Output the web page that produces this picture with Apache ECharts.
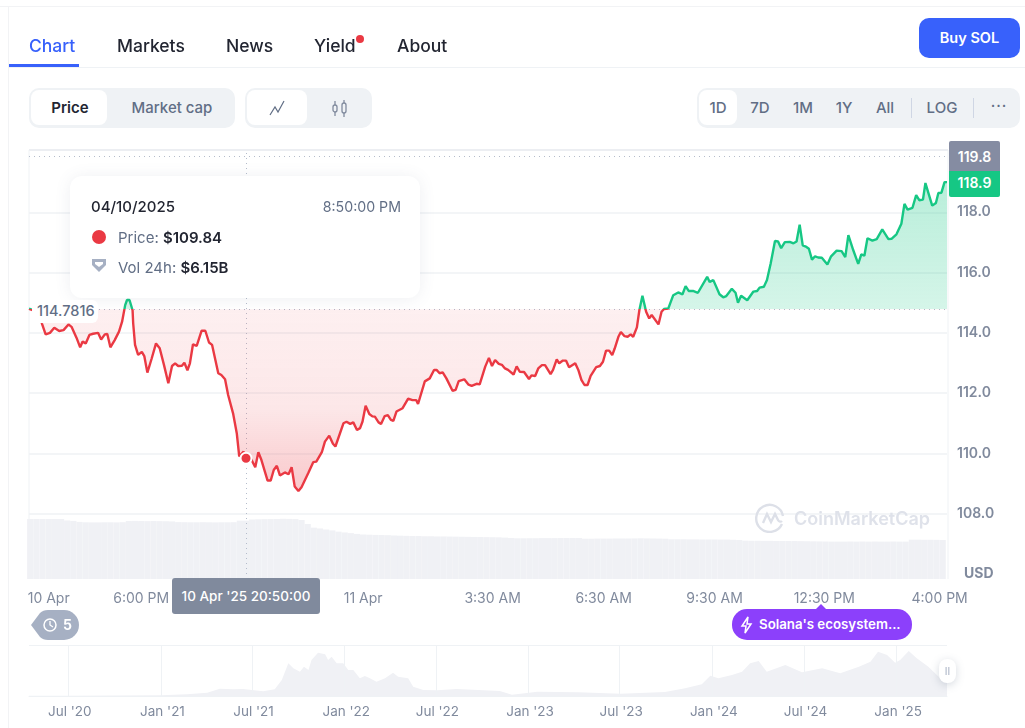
<!DOCTYPE html>
<html>
<head>
<meta charset="utf-8">
<script src="https://cdn.jsdelivr.net/npm/echarts@6/dist/echarts.min.js"></script>
<style>
html, body { margin: 0; padding: 0; background: #fff; }
body { width: 1025px; height: 728px; position: relative; overflow: hidden; font-family: Inter, "Noto Sans", sans-serif; color: #222531; }
#main { position: absolute; left: 0; top: 0; width: 1025px; height: 728px; }
.abs { position: absolute; white-space: nowrap; }
.mid { transform: translate(-50%, -50%); }
.tab { font-size: 17.5px; font-weight: 500; top: 36px; line-height: 20px; }
.pill { background: #eff2f5; border-radius: 10px; top: 88px; height: 40px; }
.inner { background: #fff; border-radius: 8px; top: 90px; height: 35px; }
.btn { top: 107px; font-size: 15px; font-weight: 500; color: #616e85; }
.price-tag { left: 949px; width: 51px; text-align: center; color: #fff; font-size: 14px; font-weight: 600; }
</style>
</head>
<body>
<div id="main"></div>

<div class="abs" style="left:0;top:6px;width:1025px;height:1px;background:#f2f3f5"></div>
<div class="abs" style="left:8px;top:6px;width:1px;height:722px;background:#f2f3f5"></div>
<div class="abs" style="left:9px;top:67px;width:1016px;height:1px;background:#eff2f5"></div>
<div class="abs" style="left:9px;top:64px;width:70px;height:3px;background:#3861fb"></div>
<div class="abs tab" style="left:29px;color:#3861fb">Chart</div>
<div class="abs tab" style="left:117px">Markets</div>
<div class="abs tab" style="left:226px">News</div>
<div class="abs tab" style="left:314px">Yield</div>
<div class="abs" style="left:356px;top:35px;width:8px;height:8px;border-radius:50%;background:#ea3943"></div>
<div class="abs tab" style="left:397px">About</div>
<div class="abs" style="left:919px;top:18px;width:101px;height:40px;line-height:40px;text-align:center;background:#3861fb;border-radius:10px;color:#fff;font-size:14.5px;font-weight:600">Buy SOL</div>

<div class="abs pill" style="left:29px;width:206px"></div>
<div class="abs inner" style="left:31px;width:76px"></div>
<div class="abs btn mid" style="left:70px;color:#222531;font-weight:600">Price</div>
<div class="abs btn mid" style="left:172px">Market cap</div>
<div class="abs pill" style="left:245px;width:127px"></div>
<div class="abs inner" style="left:247px;width:60px"></div>
<svg class="abs" style="left:269px;top:100px" width="16" height="16" viewBox="0 0 16 16" fill="none" stroke="#616e85" stroke-width="1.2"><path d="M1 15L6 7l3 5 6-11"/></svg>
<svg class="abs" style="left:331px;top:100px" width="18" height="17" viewBox="0 0 18 17" fill="none" stroke="#808a9d" stroke-width="1.3"><rect x="2" y="5" width="4" height="7" rx="2"/><rect x="11" y="3" width="4" height="10" rx="2"/><path d="M4 1v4M4 12v4M13 0v3M13 13v4"/></svg>

<div class="abs pill" style="left:697px;width:323px"></div>
<div class="abs inner" style="left:699px;width:38px"></div>
<div class="abs btn mid" style="left:718px">1D</div>
<div class="abs btn mid" style="left:760px">7D</div>
<div class="abs btn mid" style="left:803px">1M</div>
<div class="abs btn mid" style="left:844px">1Y</div>
<div class="abs btn mid" style="left:885px">All</div>
<div class="abs" style="left:911px;top:98px;width:1px;height:20px;background:#cfd6e4"></div>
<div class="abs btn mid" style="left:942px">LOG</div>
<div class="abs" style="left:973px;top:98px;width:1px;height:20px;background:#cfd6e4"></div>
<div class="abs btn mid" style="left:999px;top:105px;letter-spacing:1px">···</div>

<!-- hover card -->
<div class="abs" style="left:70px;top:176px;width:350px;height:122px;background:#fff;border-radius:12px;box-shadow:0 1px 16px rgba(88,102,126,0.10)"></div>
<div class="abs" style="left:91px;top:198px;font-size:15px;font-weight:500;line-height:18px">04/10/2025</div>
<div class="abs" style="right:624px;top:198px;font-size:14.2px;color:#616e85;line-height:18px">8:50:00 PM</div>
<div class="abs" style="left:92px;top:230px;width:14px;height:14px;border-radius:50%;background:#ea3943"></div>
<div class="abs" style="left:118px;top:229px;font-size:15px;line-height:18px;color:#616e85">Price: <b style="color:#222531;font-weight:600">$109.84</b></div>
<svg class="abs" style="left:90px;top:258px" width="18" height="17" viewBox="0 0 18 17"><path d="M2 1h14v6l-7 7-7-7z" fill="#a6b0c3"/><path d="M5 4h8v2l-4 3-4-3z" fill="#fff"/></svg>
<div class="abs" style="left:118px;top:259px;font-size:15px;line-height:18px;color:#616e85">Vol 24h: <b style="color:#222531;font-weight:600">$6.15B</b></div>

<!-- price and base labels -->
<div class="abs" style="left:32px;top:300px;width:66px;height:23px;background:#fff;border-radius:6px"></div>
<div class="abs" style="left:37px;top:302px;font-size:14.5px;font-weight:500;color:#616e85;line-height:18px">114.7816</div>
<div class="abs price-tag" style="top:141px;height:30px;line-height:32px;background:#858ca2;border-radius:2px 2px 0 0">119.8</div>
<div class="abs price-tag" style="top:171px;height:26px;line-height:23px;background:#16c784;border-radius:0 0 2px 2px">118.9</div>
<div class="abs" style="left:964px;top:564px;font-size:14px;font-weight:700;color:#808a9d;line-height:17px">USD</div>

<!-- watermark -->
<svg class="abs" style="left:755px;top:503px" width="30" height="30" viewBox="0 0 30 30" fill="none" stroke="#dde0e8" stroke-width="2.4"><path d="M27 21A13.5 13.5 0 1 1 28 13"/><path d="M8 20l4-9 4 8 4-8 3 6c1 2 3 2 4 1"/></svg>
<div class="abs" style="left:794px;top:508px;font-size:18px;font-weight:600;color:#dfe2ea;line-height:22px">CoinMarketCap</div>

<!-- x crosshair label and badges -->
<div class="abs" style="left:172px;top:578px;width:148px;height:36px;line-height:37px;text-align:center;background:#808a9d;border-radius:3px;color:#fff;font-size:13.5px;font-weight:500">10 Apr '25 20:50:00</div>
<svg class="abs" style="left:30px;top:609px" width="50" height="32" viewBox="0 0 50 32"><path d="M1 16L10 4Q13 1 18 1H34A15 15 0 0 1 34 31H18Q13 31 10 28z" fill="#a6b0c3"/><circle cx="20" cy="16" r="6" fill="none" stroke="#fff" stroke-width="1.5"/><path d="M20 12v4l3 2" fill="none" stroke="#fff" stroke-width="1.3"/></svg>
<div class="abs" style="left:63px;top:616px;font-size:14px;font-weight:700;color:#fff;line-height:17px">5</div>
<div class="abs" style="left:732px;top:609px;width:180px;height:31px;background:#8c40fb;border-radius:15px"></div>
<div class="abs" style="left:816px;top:604px;width:0;height:0;border-left:5px solid transparent;border-right:5px solid transparent;border-bottom:5px solid #8c40fb"></div>
<svg class="abs" style="left:740px;top:616px" width="13" height="18" viewBox="0 0 13 18" fill="none" stroke="#fff" stroke-width="1.5"><path d="M8 1L2 10h4l-1 7 6-9H7z"/></svg>
<div class="abs" style="left:759px;top:616px;font-size:13.3px;font-weight:600;color:#fff;line-height:17px">Solana's ecosystem...</div>
<div class="abs" style="left:939px;top:659px;width:17px;height:24px;background:#fff;border-radius:8px;box-shadow:0 2px 8px rgba(88,102,126,0.25);text-align:center;font-size:10px;line-height:24px;color:#a6b0c3">II</div>

<script>
// minutes counted from 10 Apr 2025 00:00
var priceMinutes = [898, 905, 915, 919, 925, 932, 939, 947, 954, 962, 967, 975, 981, 985, 990, 996, 1002, 1010, 1015, 1021, 1025, 1030, 1037, 1044, 1049, 1054, 1057, 1061, 1066, 1067, 1070, 1075, 1081, 1085, 1090, 1097, 1104, 1110, 1117, 1124, 1130, 1135, 1140, 1146, 1150, 1155, 1159, 1164, 1170, 1178, 1184, 1190, 1195, 1205, 1210, 1216, 1221, 1229, 1235, 1239, 1246, 1250, 1255, 1265, 1270, 1275, 1285, 1290, 1295, 1300, 1305, 1313, 1319, 1324, 1329, 1335, 1340, 1351, 1359, 1364, 1373, 1378, 1385, 1391, 1395,
    1408, 1413, 1419, 1424, 1430, 1435, 1439, 1444, 1450, 1455, 1459, 1465, 1469, 1475, 1480, 1485, 1489, 1494, 1504, 1513, 1520, 1526, 1529, 1540, 1548, 1555, 1559, 1564, 1569, 1575, 1585, 1590, 1595, 1604, 1611, 1616, 1624, 1629, 1638, 1644, 1649, 1654, 1660, 1665, 1670, 1675, 1684, 1689, 1694, 1701, 1709, 1713, 1719, 1724, 1730, 1735, 1744, 1748, 1754, 1758, 1764, 1769, 1774, 1784, 1789, 1794, 1799, 1804, 1809, 1818, 1824, 1829, 1834, 1839, 1844, 1848, 1854, 1858, 1864, 1869, 1874, 1878, 1884, 1888, 1893, 1899, 1904, 1908, 1919, 1924, 1928,
    1935, 1943, 1951, 1958, 1963, 1968, 1975, 1983, 1998, 2002, 2008, 2018, 2024, 2029, 2038, 2044, 2048, 2053, 2063, 2073, 2079, 2083, 2090, 2095, 2101, 2108, 2113, 2118, 2124, 2132, 2138, 2143, 2148, 2153, 2159, 2163, 2168, 2173, 2178, 2184, 2193, 2199, 2208, 2216, 2222, 2227, 2235, 2243, 2248, 2253, 2258, 2266, 2273, 2282, 2292, 2297, 2305, 2313, 2318, 2323, 2331, 2337, 2342, 2348, 2352, 2363, 2369, 2373, 2378, 2383, 2387];
var priceValues = [114.80, 114.75, 114.59, 114.31, 113.95, 114.00, 114.17, 114.06, 114.09, 114.28, 114.20, 113.84, 113.52, 113.71, 113.65, 113.93, 113.97, 114.00, 113.78, 113.95, 113.96, 113.52, 113.76, 114.04, 114.37, 114.92, 115.09, 115.09, 114.75, 114.31, 113.60, 113.27, 113.37, 113.23, 112.68, 113.15, 113.65, 113.49, 112.93, 112.33, 112.90, 112.99, 112.90, 112.91, 113.01, 112.76, 112.99, 113.62, 113.57, 114.07, 114.07, 113.68, 113.60, 112.66, 112.60, 112.46, 111.94, 111.33, 110.67, 109.90, 110.06, 109.84, 109.95, 109.54, 110.04, 109.78, 109.10, 109.10, 109.45, 109.59, 109.27, 109.37, 109.31, 109.54, 108.90, 108.75, 108.88, 109.35, 109.71, 109.73, 110.04, 110.39, 110.59, 110.32, 110.23,
    111.00, 111.05, 110.98, 111.03, 110.78, 110.84, 111.06, 111.58, 111.31, 111.23, 111.22, 111.03, 110.98, 111.24, 111.27, 111.11, 111.08, 111.39, 111.50, 111.82, 111.77, 111.77, 111.64, 112.39, 112.49, 112.77, 112.77, 112.66, 112.69, 112.49, 112.08, 112.11, 112.40, 112.46, 112.28, 112.24, 112.31, 112.29, 112.88, 113.17, 112.90, 113.10, 112.97, 112.94, 112.82, 112.77, 112.62, 112.89, 112.71, 112.70, 112.47, 112.59, 112.57, 112.82, 112.93, 112.93, 112.63, 112.77, 113.12, 112.99, 113.08, 113.08, 112.86, 112.99, 112.77, 112.44, 112.27, 112.27, 112.57, 112.86, 112.90, 113.04, 113.41, 113.41, 113.26, 113.48, 113.87, 114.03, 113.89, 113.87, 113.95, 113.87, 114.18, 114.75, 115.23, 114.70, 114.48, 114.59, 114.28, 114.70, 114.79,
    114.81, 115.25, 115.34, 115.28, 115.55, 115.39, 115.39, 115.33, 115.86, 115.69, 115.75, 115.28, 115.18, 115.22, 115.46, 115.33, 115.00, 115.23, 115.08, 115.37, 115.39, 115.50, 115.53, 115.75, 116.30, 117.05, 117.03, 116.81, 117.01, 117.02, 116.97, 117.03, 117.59, 116.90, 116.85, 116.79, 116.43, 116.54, 116.50, 116.49, 116.27, 116.54, 116.73, 116.71, 116.51, 117.24, 116.74, 116.29, 116.60, 116.56, 117.14, 117.06, 117.11, 117.43, 117.11, 117.12, 117.27, 117.62, 118.28, 118.09, 118.15, 118.57, 118.40, 118.42, 118.97, 118.22, 118.31, 118.64, 118.65, 119.00, 119.00];

var basePrice = 114.7816;
var highPrice = 119.87;
var hoverMinute = 1250;
var hoverPrice = 109.84;

// 24h volume in billions, one bar every 10 minutes from minute 900
var volumeValues = [6.15, 6.15, 6.15, 6.15, 6.15, 6.15, 6.00, 5.95, 5.85, 5.81, 5.80, 5.80, 5.81, 5.81, 5.80, 5.82, 5.94, 5.95, 5.94, 5.93, 5.94, 5.93, 5.92, 5.90, 5.83, 5.82, 5.81, 5.81, 5.82, 5.81, 5.80, 5.81, 5.81, 5.82, 5.98, 5.98, 6.10, 6.12, 6.13, 6.14, 6.15, 6.17, 6.16, 6.14, 6.05, 5.64, 5.26, 5.18, 5.07, 4.98, 4.85, 4.77, 4.70, 4.62, 4.56, 4.54, 4.52, 4.51, 4.49, 4.46, 4.44, 4.42, 4.40, 4.40, 4.38, 4.38, 4.36, 4.36, 4.35, 4.34, 4.33, 4.32, 4.31, 4.30, 4.29, 4.28, 4.27, 4.24, 4.20,
    4.17, 4.17, 4.18, 4.18, 4.19, 4.19, 4.19, 4.20, 4.20, 4.20, 4.20, 4.13, 4.13, 4.14, 4.14, 4.14, 4.15, 4.15, 4.15, 4.16, 4.17, 4.16, 4.15, 4.14, 4.13, 4.07, 4.07, 4.07, 4.06, 4.06, 4.05, 4.05, 4.05, 4.04, 4.04, 4.02, 4.00, 3.93, 3.92, 3.92, 3.91, 3.91, 3.90, 3.90, 3.89, 3.89, 3.88, 3.87, 3.86, 3.85, 3.84, 3.83, 3.83, 3.83, 3.84, 3.83, 3.84, 3.83, 3.84, 3.83, 3.83, 3.84, 3.83, 3.83, 4.03, 4.03, 4.02, 4.02, 4.01, 4.00];

var xTickMinutes = [930, 1080, 1440, 1650, 1830, 2010, 2188, 2375];
var xTickLabels = ['10 Apr', '6:00 PM', '11 Apr', '3:30 AM', '6:30 AM', '9:30 AM', '12:30 PM', '4:00 PM'];

var navDates = ['2020-04-14', '2020-07-01', '2021-01-01', '2021-02-22', '2021-04-03', '2021-04-28', '2021-05-25', '2021-06-13', '2021-07-23', '2021-08-15', '2021-08-29', '2021-09-11', '2021-09-21', '2021-10-04', '2021-10-12', '2021-10-21', '2021-10-27', '2021-11-09', '2021-11-23', '2021-11-29', '2021-12-06', '2021-12-16', '2021-12-29', '2022-01-08', '2022-01-18', '2022-01-31', '2022-02-10', '2022-02-20', '2022-03-05', '2022-03-22', '2022-04-07', '2022-04-17', '2022-05-07', '2022-05-17', '2022-06-06', '2022-07-03', '2022-08-11', '2022-11-05', '2022-11-29',
    '2023-01-02', '2023-01-18', '2023-04-10', '2023-07-03', '2023-09-29', '2023-11-08', '2023-12-11', '2023-12-28', '2024-01-13', '2024-02-09', '2024-02-29', '2024-03-16', '2024-04-02', '2024-04-18', '2024-05-25', '2024-06-27', '2024-08-06', '2024-09-11', '2024-10-18', '2024-11-10', '2024-11-25', '2024-12-13', '2024-12-29', '2025-01-08', '2025-01-25', '2025-02-10', '2025-03-05', '2025-04-01', '2025-04-11'];
var navValues = [1, 2, 4, 10, 20, 44, 40, 42, 28, 40, 96, 196, 166, 146, 176, 156, 216, 260, 250, 216, 236, 196, 196, 156, 156, 106, 120, 106, 86, 106, 140, 116, 106, 56, 36, 34, 42, 30, 8,
    20, 26, 22, 14, 24, 46, 70, 122, 106, 126, 146, 196, 210, 146, 186, 142, 166, 136, 176, 206, 266, 246, 200, 216, 270, 226, 176, 96, 116];
var navTickDates = ['2020-07-01', '2021-01-01', '2021-07-01', '2022-01-01', '2022-07-01', '2023-01-01', '2023-07-01', '2024-01-01', '2024-07-01', '2025-01-01'];
var navTickLabels = ["Jul '20", "Jan '21", "Jul '21", "Jan '22", "Jul '22", "Jan '23", "Jul '23", "Jan '24", "Jul '24", "Jan '25"];

function toDate(s) {
    return Date.parse(s + 'T00:00:00Z');
}

var priceData = priceMinutes.map(function (m, i) { return [m, priceValues[i]]; });
var volumeData = volumeValues.map(function (v, i) { return [900 + i * 10, v]; });
var navData = navDates.map(function (d, i) { return [toDate(d), navValues[i]]; });

var navTicks = navTickDates.map(toDate);

// hard colour change at the opening price, as a share of the price range
var maxP = Math.max.apply(null, priceValues);
var minP = Math.min.apply(null, priceValues);
var split = (maxP - basePrice) / (maxP - minP);

var labelColor = '#808a9d';
var gridColor = '#eff2f5';
var dotColor = '#b4bccb';
var fontName = 'Inter';

var myChart = echarts.init(document.getElementById('main'));

var option = {
    animation: false,
    textStyle: { fontFamily: fontName },
    grid: [
        { left: 29, top: 152, width: 918, height: 422 },
        { left: 29, top: 510, width: 918, height: 69 },
        { left: 29, top: 645, width: 918, height: 51 }
    ],
    graphic: [
        { type: 'line', z: 0, shape: { x1: 29, y1: 150, x2: 948, y2: 150 }, style: { stroke: '#eceef2', lineWidth: 2 } },
        { type: 'line', z: 0, shape: { x1: 29, y1: 150, x2: 29, y2: 579 }, style: { stroke: gridColor, lineWidth: 1 } },
        { type: 'line', z: 0, shape: { x1: 948, y1: 150, x2: 948, y2: 579 }, style: { stroke: gridColor, lineWidth: 1 } }
    ],
    xAxis: [
        {
            type: 'value', gridIndex: 0,
            min: 898, max: 2387,
            axisLine: { show: false }, axisTick: { show: false }, axisLabel: { show: false }, splitLine: { show: false }
        },
        {
            type: 'value', gridIndex: 1,
            min: 898, max: 2387,
            axisLine: { show: false }, axisTick: { show: false }, splitLine: { show: false },
            axisLabel: {
                customValues: xTickMinutes,
                hideOverlap: false,
                color: labelColor, fontSize: 14, margin: 13,
                formatter: function (v) { return xTickLabels[xTickMinutes.indexOf(v)]; }
            }
        },
        {
            type: 'value', gridIndex: 2,
            min: toDate('2020-04-14'), max: toDate('2025-04-11'),
            axisLine: { lineStyle: { color: gridColor } }, axisTick: { show: false }, splitLine: { show: false },
            axisLabel: {
                customValues: navTicks,
                hideOverlap: false,
                color: labelColor, fontSize: 13.5, margin: 9, padding: [0, 0, 0, 3],
                formatter: function (v) { return navTickLabels[navTicks.indexOf(v)]; }
            }
        }
    ],
    yAxis: [
        {
            type: 'value', gridIndex: 0, position: 'right',
            min: 106, max: 120, interval: 2,
            axisLine: { show: false }, axisTick: { show: false },
            splitLine: { showMinLine: false, showMaxLine: false, lineStyle: { color: gridColor, width: 1.5 } },
            axisLabel: {
                showMinLabel: false, showMaxLabel: false,
                color: labelColor, fontSize: 14, fontWeight: 600, margin: 10, padding: [5, 0, 0, 0],
                formatter: function (v) { return v.toFixed(1); }
            }
        },
        {
            type: 'value', gridIndex: 1, min: 0, max: 7.07,
            axisLine: { show: false }, axisTick: { show: false }, axisLabel: { show: false }, splitLine: { show: false }
        },
        {
            type: 'value', gridIndex: 2, min: 0, max: 306, interval: 306,
            axisLine: { show: false }, axisTick: { show: false }, axisLabel: { show: false },
            splitLine: { lineStyle: { color: gridColor } }
        }
    ],
    series: [
        {
            name: 'Vol 24h',
            type: 'bar',
            xAxisIndex: 1,
            yAxisIndex: 1,
            barWidth: 6.2,
            itemStyle: { color: '#f0f1f5' },
            silent: true,
            data: volumeData
        },
        {
            name: 'Price',
            type: 'line',
            xAxisIndex: 0,
            yAxisIndex: 0,
            z: 5,
            symbol: 'none',
            lineStyle: {
                width: 2.4,
                color: new echarts.graphic.LinearGradient(0, 0, 0, 1, [
                    { offset: 0, color: '#16c784' },
                    { offset: split, color: '#16c784' },
                    { offset: split, color: '#ea3943' },
                    { offset: 1, color: '#ea3943' }
                ])
            },
            areaStyle: {
                origin: basePrice,
                opacity: 1,
                color: new echarts.graphic.LinearGradient(0, 0, 0, 1, [
                    { offset: 0, color: 'rgba(22,199,132,0.30)' },
                    { offset: split, color: 'rgba(22,199,132,0.18)' },
                    { offset: split, color: 'rgba(234,57,67,0.08)' },
                    { offset: split + (1 - split) * 0.55, color: 'rgba(234,57,67,0.12)' },
                    { offset: 1, color: 'rgba(234,57,67,0.28)' }
                ])
            },
            markLine: {
                silent: true,
                symbol: 'none',
                animation: false,
                label: { show: false },
                lineStyle: { color: dotColor, type: [1, 4], width: 1 },
                data: [
                    { yAxis: basePrice },
                    { yAxis: highPrice },
                    { xAxis: hoverMinute }
                ]
            },
            markPoint: {
                silent: true,
                symbol: 'circle',
                symbolSize: 11,
                z: 10,
                label: { show: false },
                itemStyle: { color: '#ea3943', borderColor: '#fff', borderWidth: 2 },
                data: [{ coord: [hoverMinute, hoverPrice] }]
            },
            data: priceData
        },
        {
            name: 'Overview',
            type: 'line',
            xAxisIndex: 2,
            yAxisIndex: 2,
            symbol: 'none',
            silent: true,
            lineStyle: { width: 0 },
            areaStyle: { color: '#f0f1f5', opacity: 1 },
            markLine: {
                silent: true,
                symbol: 'none',
                animation: false,
                label: { show: false },
                lineStyle: { color: gridColor, type: 'solid', width: 1 },
                data: navTicks.map(function (t) { return { xAxis: t }; })
            },
            data: navData
        }
    ]
};

myChart.setOption(option);
</script>
</body>
</html>
